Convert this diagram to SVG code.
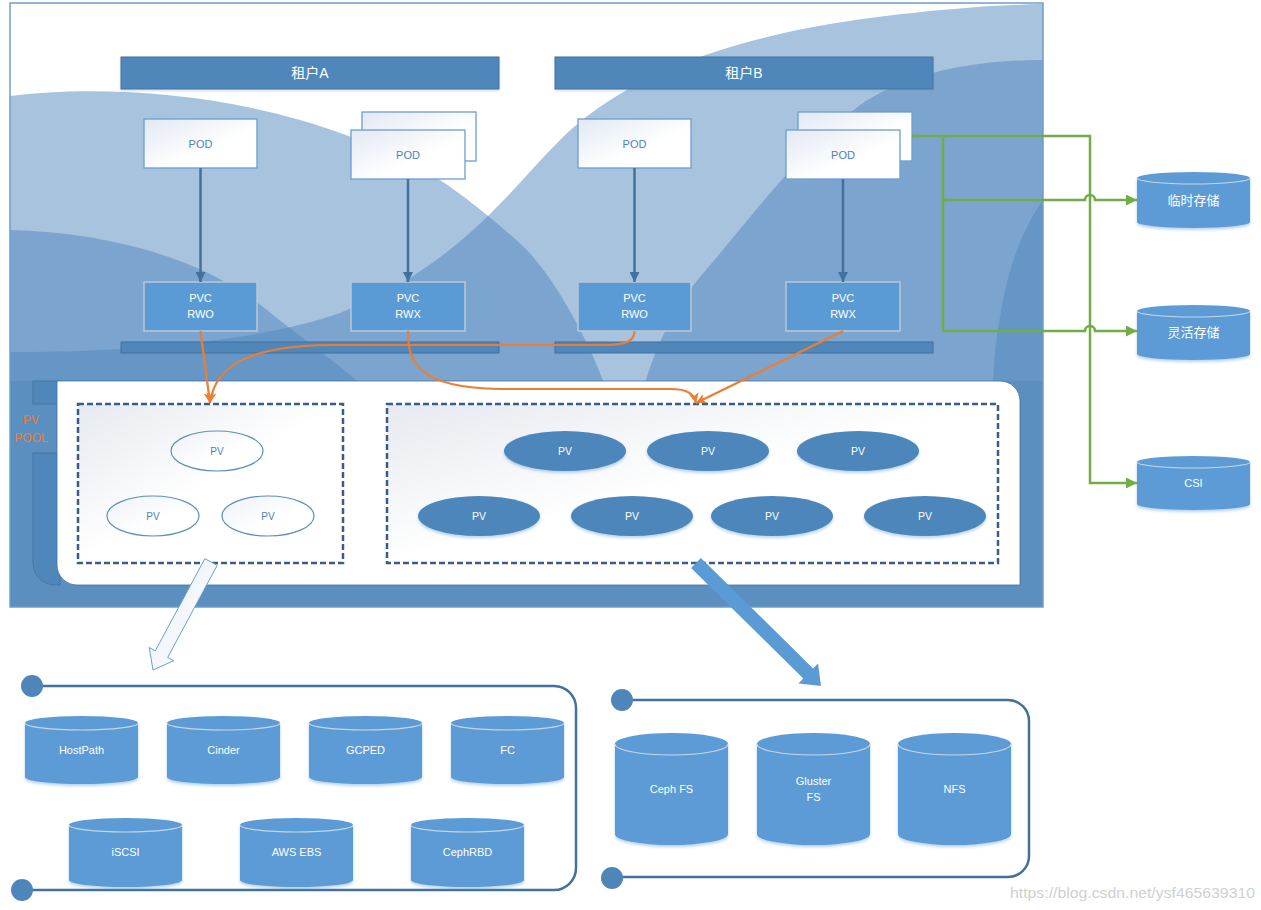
<svg xmlns="http://www.w3.org/2000/svg" width="1261" height="910" viewBox="0 0 1261 910">
<defs>
<style>
text { font-family: 'Liberation Sans','Noto Sans CJK SC',sans-serif; text-anchor: middle; dominant-baseline: central; }
.wave { fill: #5087be; fill-opacity: 0.5; }
.tenant { fill: #4f87bb; stroke: #41719c; stroke-width: 1; filter: url(#sh2); }
.tenant-t { fill: #ffffff; font-size: 14px; }
.pod { fill: url(#podGrad); stroke: #6a9fd0; stroke-width: 1.3; }
.pod-t { fill: #4f81bd; font-size: 11px; }
.pvc { fill: #5b9bd5; stroke: #bcc8d4; stroke-width: 1.5; }
.pvc-t { fill: #ffffff; font-size: 11px; }
.bar { fill: #4f87bb; stroke: #41719c; stroke-width: 1; }
.dash { fill: url(#boxGrad); stroke: #385d8a; stroke-width: 2.5; stroke-dasharray: 6 3; }
.pv-o { fill: url(#pvGrad); stroke: #5b8fc0; stroke-width: 1.2; }
.pv-o-t { fill: #4f81bd; font-size: 10px; }
.pv-f { fill: #4e86ba; filter: url(#sh); }
.pv-f-t { fill: #ffffff; font-size: 10.5px; }
.cyl { fill: #5b9bd5; filter: url(#sh); }
.cyl-top { fill: none; stroke: #c8d6e4; stroke-width: 1.2; }
.cyl-t { fill: #ffffff; font-size: 11px; }
.cyl-t2 { fill: #ffffff; font-size: 13px; }
.blue-line { stroke: #41719c; stroke-width: 2.5; fill: none; }
.orange { stroke: #ed7d31; stroke-width: 2.2; fill: none; }
.green { stroke: #70ad47; stroke-width: 2.5; fill: none; }
.cont { stroke: #41719c; stroke-width: 2.5; fill: none; }
.dot { fill: #4e86ba; }
.pool-t { fill: #ed7d31; font-size: 12px; }
</style>
<linearGradient id="podGrad" x1="0" y1="0" x2="1" y2="1">
<stop offset="0" stop-color="#e2e8f3"/><stop offset="0.6" stop-color="#ffffff"/></linearGradient>
<linearGradient id="boxGrad" x1="0" y1="0" x2="1" y2="1">
<stop offset="0" stop-color="#e6e9ef"/><stop offset="0.5" stop-color="#ffffff"/></linearGradient>
<linearGradient id="pvGrad" x1="0" y1="0" x2="1" y2="1">
<stop offset="0" stop-color="#eef1f7"/><stop offset="0.6" stop-color="#ffffff"/></linearGradient>
<linearGradient id="hollowGrad" x1="0" y1="0" x2="1" y2="1">
<stop offset="0" stop-color="#e8eef6"/><stop offset="1" stop-color="#ffffff"/></linearGradient>
<filter id="sh" x="-10%" y="-10%" width="120%" height="130%">
<feDropShadow dx="0" dy="2" stdDeviation="1.5" flood-color="#5b9bd5" flood-opacity="0.45"/></filter>
<filter id="sh2" x="-5%" y="-20%" width="110%" height="150%">
<feDropShadow dx="0" dy="1.5" stdDeviation="1.2" flood-color="#7f9fbf" flood-opacity="0.35"/></filter>
<clipPath id="frameClip"><rect x="10" y="3" width="1033" height="604"/></clipPath>
<marker id="mb" markerUnits="userSpaceOnUse" markerWidth="10" markerHeight="10" viewBox="0 0 10 10" refX="10" refY="5" orient="auto"><path d="M0,0 L10,5 L0,10 Z" fill="#41719c"/></marker>
<marker id="mo" markerUnits="userSpaceOnUse" markerWidth="10" markerHeight="10" viewBox="0 0 10 10" refX="10" refY="5" orient="auto"><path d="M0,0 L10,5 L0,10 L2.5,5 Z" fill="#ed7d31"/></marker>
<marker id="mg" markerUnits="userSpaceOnUse" markerWidth="11" markerHeight="11" viewBox="0 0 10 10" refX="10" refY="5" orient="auto"><path d="M0,0 L10,5 L0,10 Z" fill="#70ad47"/></marker>
</defs>

<!-- background frame and waves -->
<g id="background">
<rect x="10" y="3" width="1033" height="604" fill="#ffffff"/>
<g clip-path="url(#frameClip)">
<path class="wave" d="M10,96 C120,82 300,95 440,180 C470,200 500,225 527,250 C555,280 590,340 610,400 L610,607 L10,607 Z"/>
<path class="wave" d="M10,352 C150,352 270,338 340,313 C410,285 455,248 487,217 C515,190 535,165 560,140 C620,80 720,38 870,18 C950,8 1000,5 1043,4 L1043,607 L10,607 Z"/>
<path class="wave" d="M10,230 C100,232 200,255 267,310 C300,337 340,365 380,400 L380,607 L10,607 Z"/>
<path class="wave" d="M1043,60 C960,60 900,78 860,105 C800,150 745,225 700,277 C675,307 655,345 640,400 L1043,400 Z"/>
<path class="wave" d="M1043,200 C1025,225 1008,265 1000,317 C995,345 993,370 993,400 L993,607 L1043,607 Z"/>
<rect x="10" y="381" width="1033" height="226" fill="#5b8fc0"/>
</g>
<rect x="10" y="3" width="1033" height="604" fill="none" stroke="#6d9eca" stroke-width="1.5"/>
</g>

<!-- PV pool -->
<g id="pv-pool">
<rect x="33" y="381" width="26" height="23" fill="#4f87bb" stroke="#41719c" stroke-width="0.8"/>
<path d="M33,453 H60 V585 H55 A22,22 0 0 1 33,563 Z" fill="#4f87bb" stroke="#41719c" stroke-width="0.8"/>
<path d="M57,381 H1000 A20,20 0 0 1 1020,401 V585 H77 A20,20 0 0 1 57,565 Z" fill="#ffffff" stroke="#41719c" stroke-width="0.8"/>
<text class="pool-t" x="31" y="420">PV</text>
<text class="pool-t" x="31" y="438">POOL</text>
</g>

<g id="pv-group-a">
<rect class="dash" x="78" y="404" width="265" height="159"/>
<g id="pv-a1"><ellipse class="pv-o" cx="217" cy="451" rx="46" ry="20"/><text class="pv-o-t" x="217" y="451">PV</text></g>
<g id="pv-a2"><ellipse class="pv-o" cx="153" cy="516" rx="46" ry="20"/><text class="pv-o-t" x="153" y="516">PV</text></g>
<g id="pv-a3"><ellipse class="pv-o" cx="268" cy="516" rx="46" ry="20"/><text class="pv-o-t" x="268" y="516">PV</text></g>
</g>

<g id="pv-group-b">
<rect class="dash" x="387" y="404" width="611" height="159"/>
<g id="pv-b1"><ellipse class="pv-f" cx="565" cy="451" rx="61" ry="20"/><text class="pv-f-t" x="565" y="451">PV</text></g>
<g id="pv-b2"><ellipse class="pv-f" cx="708" cy="451" rx="61" ry="20"/><text class="pv-f-t" x="708" y="451">PV</text></g>
<g id="pv-b3"><ellipse class="pv-f" cx="858" cy="451" rx="61" ry="20"/><text class="pv-f-t" x="858" y="451">PV</text></g>
<g id="pv-b4"><ellipse class="pv-f" cx="479" cy="516" rx="61" ry="20"/><text class="pv-f-t" x="479" y="516">PV</text></g>
<g id="pv-b5"><ellipse class="pv-f" cx="632" cy="516" rx="61" ry="20"/><text class="pv-f-t" x="632" y="516">PV</text></g>
<g id="pv-b6"><ellipse class="pv-f" cx="772" cy="516" rx="61" ry="20"/><text class="pv-f-t" x="772" y="516">PV</text></g>
<g id="pv-b7"><ellipse class="pv-f" cx="925" cy="516" rx="61" ry="20"/><text class="pv-f-t" x="925" y="516">PV</text></g>
</g>

<!-- tenants -->
<g id="tenant-a"><rect class="tenant" x="121" y="57" width="378" height="32"/><text class="tenant-t" x="310" y="73">租户A</text></g>
<g id="tenant-b"><rect class="tenant" x="555" y="57" width="378" height="32"/><text class="tenant-t" x="744" y="73">租户B</text></g>
<g id="bar-a"><rect class="bar" x="121" y="342" width="378" height="11"/></g>
<g id="bar-b"><rect class="bar" x="555" y="342" width="378" height="11"/></g>

<g id="pod1"><rect class="pod" x="144" y="119" width="113" height="49"/><text class="pod-t" x="200.5" y="144">POD</text></g>
<g id="pod2"><rect class="pod" x="362" y="112" width="114" height="49"/><rect class="pod" x="351" y="130" width="114" height="49"/><text class="pod-t" x="408" y="155">POD</text></g>
<g id="pod3"><rect class="pod" x="578" y="119" width="113" height="49"/><text class="pod-t" x="634.5" y="144">POD</text></g>
<g id="pod4"><rect class="pod" x="798" y="112" width="114" height="49"/><rect class="pod" x="786" y="130" width="114" height="49"/><text class="pod-t" x="843" y="155">POD</text></g>

<g id="pvc1"><rect class="pvc" x="144" y="282" width="113" height="49"/><text class="pvc-t" x="200.5" y="298">PVC</text><text class="pvc-t" x="200.5" y="314">RWO</text></g>
<g id="pvc2"><rect class="pvc" x="351" y="282" width="114" height="49"/><text class="pvc-t" x="408" y="298">PVC</text><text class="pvc-t" x="408" y="314">RWX</text></g>
<g id="pvc3"><rect class="pvc" x="578" y="282" width="113" height="49"/><text class="pvc-t" x="634.5" y="298">PVC</text><text class="pvc-t" x="634.5" y="314">RWO</text></g>
<g id="pvc4"><rect class="pvc" x="786" y="282" width="114" height="49"/><text class="pvc-t" x="843" y="298">PVC</text><text class="pvc-t" x="843" y="314">RWX</text></g>

<!-- storage targets on the right -->
<g id="temp-storage">
<path class="cyl" d="M1137,178 A56.5,6 0 0 1 1250,178 V222 A56.5,6 0 0 1 1137,222 Z"/>
<path class="cyl-top" d="M1137,178 A56.5,6 0 0 0 1250,178"/>
<text class="cyl-t2" x="1193.5" y="200">临时存储</text>
</g>
<g id="flex-storage">
<path class="cyl" d="M1137,311 A56.5,6 0 0 1 1250,311 V354 A56.5,6 0 0 1 1137,354 Z"/>
<path class="cyl-top" d="M1137,311 A56.5,6 0 0 0 1250,311"/>
<text class="cyl-t2" x="1193.5" y="332">灵活存储</text>
</g>
<g id="csi">
<path class="cyl" d="M1137,462 A56.5,6 0 0 1 1250,462 V504 A56.5,6 0 0 1 1137,504 Z"/>
<path class="cyl-top" d="M1137,462 A56.5,6 0 0 0 1250,462"/>
<text class="cyl-t" x="1193.5" y="483">CSI</text>
</g>

<!-- connectors -->
<g id="connectors">
<path class="blue-line" d="M200.5,168 V282" marker-end="url(#mb)"/>
<path class="blue-line" d="M408,179 V282" marker-end="url(#mb)"/>
<path class="blue-line" d="M634.5,168 V282" marker-end="url(#mb)"/>
<path class="blue-line" d="M843,179 V282" marker-end="url(#mb)"/>

<path class="orange" d="M200.5,331 L210,403" marker-end="url(#mo)"/>
<path class="orange" d="M634.5,331 C634.5,340 628,344 610,345 L330,345 C250,346 215,365 210,403" marker-end="url(#mo)"/>
<path class="orange" d="M408,331 C408,360 415,388 500,389 L670,389 C688,389 694,394 696,403" marker-end="url(#mo)"/>
<path class="orange" d="M843,331 L696,403" marker-end="url(#mo)"/>

<path class="green" d="M912,136 H1090 V483 H1137" marker-end="url(#mg)"/>
<path class="green" d="M943,136 V331"/>
<path class="green" d="M943,200 H1085 A5,5 0 0 1 1095,200 H1137" marker-end="url(#mg)"/>
<path class="green" d="M943,331 H1085 A5,5 0 0 1 1095,331 H1137" marker-end="url(#mg)"/>

<polygon points="204.8,558.7 217.2,565.3 167.7,657.4 173.8,660.7 153,670 149.2,647.5 155.3,650.8" fill="url(#hollowGrad)" stroke="#6a9fd0" stroke-width="1"/>
<polygon points="700.9,558 813.1,668.4 818,663.4 821,686 798.4,683.4 803.3,678.4 691.1,568" fill="#5b9bd5"/>
</g>

<!-- block storage group -->
<g id="block-storage">
<path class="cont" d="M32,686 H554 A22,22 0 0 1 576,708 V868 A22,22 0 0 1 554,890 H22"/>
<circle class="dot" cx="32" cy="686" r="11"/>
<circle class="dot" cx="22" cy="890" r="11"/>
<g id="hostpath"><path class="cyl" d="M25,723 A56.5,7 0 0 1 138,723 V777 A56.5,7 0 0 1 25,777 Z"/><path class="cyl-top" d="M25,723 A56.5,7 0 0 0 138,723"/><text class="cyl-t" x="81.5" y="750">HostPath</text></g>
<g id="cinder"><path class="cyl" d="M167,723 A56.5,7 0 0 1 280,723 V777 A56.5,7 0 0 1 167,777 Z"/><path class="cyl-top" d="M167,723 A56.5,7 0 0 0 280,723"/><text class="cyl-t" x="223.5" y="750">Cinder</text></g>
<g id="gcped"><path class="cyl" d="M309,723 A56.5,7 0 0 1 422,723 V777 A56.5,7 0 0 1 309,777 Z"/><path class="cyl-top" d="M309,723 A56.5,7 0 0 0 422,723"/><text class="cyl-t" x="365.5" y="750">GCPED</text></g>
<g id="fc"><path class="cyl" d="M451,723 A56.5,7 0 0 1 564,723 V777 A56.5,7 0 0 1 451,777 Z"/><path class="cyl-top" d="M451,723 A56.5,7 0 0 0 564,723"/><text class="cyl-t" x="507.5" y="750">FC</text></g>
<g id="iscsi"><path class="cyl" d="M69,825 A56.5,7 0 0 1 182,825 V880 A56.5,7 0 0 1 69,880 Z"/><path class="cyl-top" d="M69,825 A56.5,7 0 0 0 182,825"/><text class="cyl-t" x="125.5" y="852">iSCSI</text></g>
<g id="aws-ebs"><path class="cyl" d="M240,825 A56.5,7 0 0 1 353,825 V880 A56.5,7 0 0 1 240,880 Z"/><path class="cyl-top" d="M240,825 A56.5,7 0 0 0 353,825"/><text class="cyl-t" x="296.5" y="852">AWS EBS</text></g>
<g id="cephrbd"><path class="cyl" d="M411,825 A56.5,7 0 0 1 524,825 V880 A56.5,7 0 0 1 411,880 Z"/><path class="cyl-top" d="M411,825 A56.5,7 0 0 0 524,825"/><text class="cyl-t" x="467.5" y="852">CephRBD</text></g>
</g>

<!-- file storage group -->
<g id="file-storage">
<path class="cont" d="M622,700 H1008 A21,21 0 0 1 1029,721 V856 A21,21 0 0 1 1008,877 H612"/>
<circle class="dot" cx="622" cy="700" r="11"/>
<circle class="dot" cx="612" cy="878" r="11"/>
<g id="cephfs"><path class="cyl" d="M615,744 A56.5,11 0 0 1 728,744 V834 A56.5,11 0 0 1 615,834 Z"/><path class="cyl-top" d="M615,744 A56.5,11 0 0 0 728,744"/><text class="cyl-t" x="671.5" y="789">Ceph FS</text></g>
<g id="glusterfs"><path class="cyl" d="M757,744 A56.5,11 0 0 1 870,744 V834 A56.5,11 0 0 1 757,834 Z"/><path class="cyl-top" d="M757,744 A56.5,11 0 0 0 870,744"/><text class="cyl-t" x="813.5" y="781">Gluster</text><text class="cyl-t" x="813.5" y="797">FS</text></g>
<g id="nfs"><path class="cyl" d="M898,744 A56.5,11 0 0 1 1011,744 V834 A56.5,11 0 0 1 898,834 Z"/><path class="cyl-top" d="M898,744 A56.5,11 0 0 0 1011,744"/><text class="cyl-t" x="954.5" y="789">NFS</text></g>
</g>

<text x="1010" y="892" style="text-anchor:start;font-size:15px;fill:#d0d0d0" textLength="245" lengthAdjust="spacingAndGlyphs">https://blog.csdn.net/ysf465639310</text>
</svg>
